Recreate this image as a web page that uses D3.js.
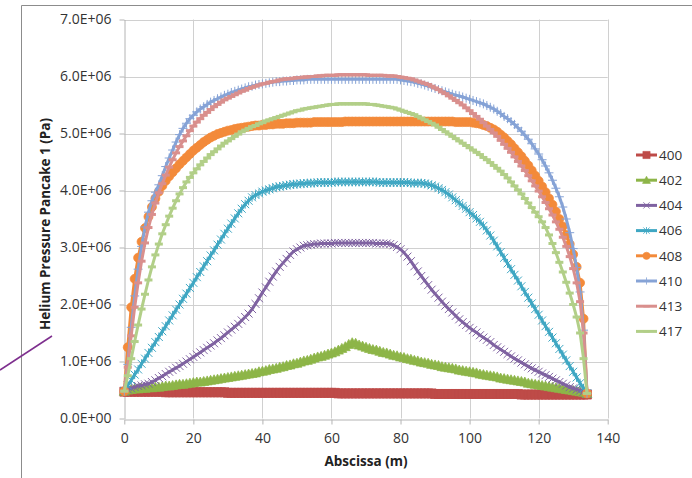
<!DOCTYPE html>
<html>
<head>
<meta charset="utf-8">
<script src="https://d3js.org/d3.v7.min.js"></script>
<style>
  body { margin: 0; background: #fff; }
  svg { display: block; font-family: "Open Sans", "Liberation Sans", sans-serif; }
</style>
</head>
<body>
<svg width="692" height="478"></svg>
<script>
// abscissa sampling (m), one point per metre
const abscissa = d3.range(0, 135);

// pressure values, in units of 1.0E+06 Pa
const p400 = [
  0.47,0.47,0.47,0.47,0.47,0.47,0.47,0.47,0.47,0.47,
  0.47,0.47,0.46,0.46,0.46,0.46,0.46,0.46,0.46,0.46,
  0.46,0.46,0.46,0.46,0.46,0.46,0.46,0.46,0.46,0.46,
  0.45,0.45,0.45,0.45,0.45,0.45,0.45,0.45,0.45,0.45,
  0.45,0.45,0.45,0.45,0.45,0.45,0.45,0.45,0.45,0.45,
  0.45,0.45,0.45,0.45,0.45,0.45,0.45,0.45,0.45,0.45,
  0.45,0.45,0.44,0.44,0.44,0.44,0.44,0.44,0.44,0.44,
  0.44,0.44,0.44,0.44,0.44,0.44,0.44,0.44,0.44,0.44,
  0.44,0.44,0.44,0.44,0.44,0.44,0.44,0.44,0.44,0.44,
  0.43,0.43,0.43,0.43,0.43,0.43,0.43,0.43,0.43,0.43,
  0.43,0.43,0.43,0.43,0.43,0.43,0.43,0.43,0.43,0.43,
  0.43,0.43,0.43,0.43,0.43,0.42,0.42,0.42,0.42,0.42,
  0.42,0.42,0.42,0.42,0.42,0.42,0.42,0.42,0.42,0.42,
  0.42,0.42,0.42,0.42,0.42
];
const p402 = [
  0.48,0.50,0.51,0.52,0.52,0.53,0.53,0.54,0.54,0.55,
  0.55,0.56,0.57,0.57,0.58,0.59,0.60,0.60,0.61,0.62,
  0.63,0.64,0.64,0.65,0.66,0.67,0.68,0.69,0.70,0.71,
  0.72,0.73,0.74,0.75,0.76,0.77,0.78,0.79,0.80,0.82,
  0.83,0.84,0.86,0.87,0.88,0.90,0.91,0.93,0.94,0.96,
  0.97,0.99,1.01,1.02,1.04,1.06,1.08,1.09,1.11,1.13,
  1.15,1.17,1.20,1.23,1.26,1.30,1.33,1.32,1.29,1.27,
  1.25,1.23,1.21,1.20,1.18,1.16,1.15,1.13,1.11,1.10,
  1.08,1.07,1.05,1.04,1.02,1.01,0.99,0.98,0.97,0.95,
  0.94,0.93,0.91,0.90,0.89,0.88,0.87,0.85,0.84,0.83,
  0.82,0.81,0.80,0.78,0.77,0.76,0.75,0.74,0.73,0.71,
  0.70,0.69,0.68,0.67,0.66,0.65,0.64,0.62,0.61,0.60,
  0.59,0.58,0.57,0.56,0.55,0.54,0.53,0.52,0.51,0.50,
  0.49,0.48,0.47,0.46,0.44
];
const p404 = [
  0.48,0.51,0.53,0.55,0.57,0.58,0.60,0.61,0.64,0.67,
  0.71,0.74,0.78,0.82,0.85,0.89,0.92,0.96,1.00,1.04,
  1.08,1.12,1.16,1.20,1.24,1.28,1.32,1.37,1.41,1.46,
  1.51,1.56,1.61,1.66,1.72,1.78,1.84,1.92,2.01,2.11,
  2.21,2.30,2.40,2.49,2.58,2.66,2.73,2.80,2.87,2.93,
  2.97,3.00,3.03,3.04,3.05,3.06,3.06,3.07,3.07,3.07,
  3.07,3.08,3.08,3.08,3.08,3.08,3.08,3.08,3.08,3.08,
  3.08,3.08,3.08,3.07,3.07,3.07,3.07,3.06,3.04,3.01,
  2.97,2.91,2.84,2.76,2.67,2.58,2.50,2.42,2.34,2.26,
  2.19,2.12,2.05,1.98,1.92,1.86,1.80,1.74,1.69,1.64,
  1.59,1.55,1.51,1.46,1.42,1.38,1.34,1.29,1.25,1.21,
  1.17,1.13,1.09,1.05,1.02,0.98,0.95,0.91,0.88,0.85,
  0.82,0.79,0.76,0.73,0.70,0.67,0.64,0.61,0.58,0.55,
  0.53,0.51,0.49,0.47,0.44
];
const p406 = [
  0.48,0.58,0.67,0.77,0.86,0.96,1.05,1.15,1.24,1.34,
  1.43,1.53,1.62,1.72,1.81,1.91,2.00,2.10,2.19,2.29,
  2.38,2.48,2.57,2.67,2.76,2.86,2.95,3.05,3.14,3.24,
  3.33,3.42,3.51,3.60,3.68,3.76,3.82,3.88,3.92,3.95,
  3.98,4.00,4.02,4.04,4.06,4.07,4.08,4.09,4.10,4.11,
  4.11,4.12,4.12,4.13,4.13,4.13,4.14,4.14,4.14,4.14,
  4.14,4.15,4.15,4.15,4.15,4.15,4.15,4.15,4.15,4.15,
  4.15,4.15,4.15,4.15,4.14,4.14,4.14,4.14,4.14,4.14,
  4.14,4.14,4.14,4.13,4.13,4.13,4.13,4.12,4.11,4.09,
  4.07,4.04,4.01,3.97,3.93,3.88,3.83,3.78,3.73,3.68,
  3.62,3.57,3.51,3.45,3.38,3.30,3.21,3.12,3.02,2.92,
  2.82,2.72,2.62,2.52,2.42,2.32,2.22,2.12,2.02,1.92,
  1.82,1.72,1.62,1.52,1.42,1.32,1.22,1.12,1.02,0.92,
  0.82,0.72,0.62,0.53,0.44
];
const p408 = [
  0.48,1.25,1.95,2.45,2.82,3.10,3.34,3.54,3.71,3.86,
  3.98,4.08,4.17,4.25,4.32,4.39,4.46,4.52,4.58,4.64,
  4.70,4.75,4.80,4.85,4.89,4.93,4.96,4.99,5.01,5.03,
  5.05,5.06,5.08,5.09,5.10,5.11,5.12,5.13,5.14,5.14,
  5.15,5.15,5.16,5.16,5.17,5.17,5.17,5.18,5.18,5.18,
  5.19,5.19,5.19,5.19,5.19,5.20,5.20,5.20,5.20,5.20,
  5.20,5.20,5.20,5.20,5.21,5.21,5.21,5.21,5.21,5.21,
  5.21,5.21,5.21,5.21,5.21,5.21,5.21,5.21,5.21,5.21,
  5.21,5.21,5.21,5.21,5.21,5.21,5.21,5.21,5.21,5.21,
  5.21,5.21,5.21,5.21,5.21,5.21,5.20,5.20,5.20,5.20,
  5.20,5.19,5.18,5.17,5.15,5.13,5.10,5.07,5.03,4.98,
  4.93,4.87,4.81,4.74,4.67,4.60,4.52,4.44,4.35,4.26,
  4.17,4.07,3.97,3.86,3.75,3.63,3.50,3.37,3.22,3.06,
  2.88,2.66,2.38,1.75,0.44
];
const p410 = [
  0.48,0.95,1.60,2.15,2.62,3.02,3.36,3.62,3.82,3.97,
  4.10,4.26,4.42,4.57,4.71,4.85,4.98,5.09,5.18,5.26,
  5.32,5.38,5.43,5.47,5.51,5.55,5.58,5.61,5.64,5.67,
  5.69,5.72,5.74,5.76,5.78,5.80,5.82,5.83,5.85,5.86,
  5.87,5.88,5.89,5.90,5.91,5.91,5.92,5.92,5.93,5.93,
  5.94,5.94,5.94,5.95,5.95,5.95,5.95,5.95,5.95,5.95,
  5.95,5.95,5.95,5.95,5.95,5.95,5.95,5.95,5.95,5.95,
  5.95,5.95,5.95,5.95,5.95,5.95,5.95,5.95,5.95,5.95,
  5.94,5.93,5.92,5.91,5.90,5.88,5.87,5.85,5.83,5.81,
  5.79,5.77,5.75,5.73,5.71,5.69,5.67,5.66,5.64,5.62,
  5.60,5.58,5.56,5.54,5.52,5.49,5.46,5.43,5.39,5.35,
  5.30,5.26,5.21,5.16,5.10,5.04,4.97,4.90,4.82,4.73,
  4.64,4.54,4.43,4.31,4.18,4.04,3.89,3.71,3.50,3.26,
  2.98,2.65,2.22,1.55,0.44
];
const p413 = [
  0.48,0.90,1.45,1.95,2.38,2.76,3.08,3.35,3.58,3.78,
  3.96,4.12,4.27,4.41,4.54,4.66,4.77,4.87,4.96,5.05,
  5.13,5.20,5.26,5.32,5.37,5.42,5.47,5.51,5.55,5.59,
  5.62,5.65,5.68,5.71,5.74,5.76,5.79,5.81,5.83,5.85,
  5.87,5.88,5.90,5.91,5.92,5.94,5.95,5.96,5.96,5.97,
  5.98,5.98,5.99,5.99,6.00,6.00,6.01,6.01,6.02,6.02,
  6.02,6.02,6.03,6.03,6.03,6.03,6.03,6.03,6.03,6.03,
  6.03,6.02,6.02,6.02,6.02,6.02,6.01,6.01,6.01,6.00,
  5.99,5.98,5.97,5.96,5.94,5.92,5.90,5.88,5.86,5.83,
  5.80,5.77,5.73,5.70,5.66,5.62,5.58,5.54,5.50,5.45,
  5.40,5.35,5.30,5.25,5.19,5.13,5.07,5.01,4.95,4.88,
  4.81,4.74,4.67,4.59,4.51,4.43,4.35,4.26,4.17,4.08,
  3.99,3.89,3.79,3.68,3.57,3.45,3.32,3.18,3.02,2.84,
  2.63,2.38,2.05,1.50,0.44
];
const p417 = [
  0.48,0.75,1.05,1.35,1.64,1.92,2.18,2.43,2.66,2.87,
  3.06,3.24,3.40,3.55,3.69,3.82,3.94,4.05,4.15,4.23,
  4.31,4.38,4.45,4.51,4.57,4.63,4.68,4.73,4.78,4.83,
  4.87,4.91,4.95,4.99,5.03,5.06,5.09,5.12,5.14,5.17,
  5.19,5.22,5.24,5.26,5.28,5.30,5.32,5.34,5.36,5.38,
  5.40,5.41,5.43,5.44,5.45,5.46,5.47,5.48,5.49,5.50,
  5.51,5.51,5.52,5.52,5.52,5.52,5.52,5.52,5.52,5.52,
  5.52,5.51,5.51,5.50,5.49,5.48,5.47,5.46,5.45,5.43,
  5.41,5.39,5.37,5.35,5.33,5.30,5.27,5.24,5.21,5.18,
  5.15,5.11,5.07,5.03,4.99,4.95,4.91,4.87,4.83,4.79,
  4.75,4.71,4.67,4.63,4.58,4.54,4.49,4.44,4.39,4.34,
  4.28,4.22,4.15,4.08,4.01,3.94,3.86,3.78,3.70,3.62,
  3.54,3.45,3.35,3.22,3.07,2.91,2.74,2.57,2.39,2.20,
  2.00,1.78,1.50,1.05,0.44
];

const seriesNames = ["400", "402", "404", "406", "408", "410", "413", "417"];
const seriesValues = [p400, p402, p404, p406, p408, p410, p413, p417];
const seriesColors = ["#BE4B48", "#8DB548", "#7F62A1", "#3FA7C3", "#F38A3A", "#86A3D6", "#D98F8D", "#B2CF88"];
const seriesMarkers = ["square", "triangle", "x", "star", "circle", "plus", "dash", "dash"];

const xTicks = [0, 20, 40, 60, 80, 100, 120, 140];
const yTicks = [0, 1e6, 2e6, 3e6, 4e6, 5e6, 6e6, 7e6];

const svg = d3.select("svg");
const plot = {left: 124.3, right: 607.7, top: 19.5, bottom: 418.5};

const x = d3.scaleLinear().domain([0, 140]).range([plot.left, plot.right]);
const y = d3.scaleLinear().domain([0, 7e6]).range([plot.bottom, plot.top]);

// chart frame (only the top and left edges are inside the picture)
svg.append("path")
   .attr("d", "M21.5,478 V5.5 H692")
   .attr("fill", "none")
   .attr("stroke", "#8c8c8c");

// gridlines
svg.append("g").selectAll("line").data(yTicks.slice(1)).join("line")
   .attr("x1", plot.left).attr("x2", plot.right)
   .attr("y1", d => Math.round(y(d)) + 0.5).attr("y2", d => Math.round(y(d)) + 0.5)
   .attr("stroke", "#d0d0d0");
svg.append("g").selectAll("line").data(xTicks.slice(1)).join("line")
   .attr("x1", d => Math.round(x(d)) + 0.5).attr("x2", d => Math.round(x(d)) + 0.5)
   .attr("y1", plot.top).attr("y2", plot.bottom)
   .attr("stroke", "#d0d0d0");

function sciFormat(v) {
    const e = v === 0 ? 0 : Math.floor(Math.log10(v));
    const m = (v / Math.pow(10, e)).toFixed(1);
    return m + "E+" + String(e).padStart(2, "0");
}

const yAxis = svg.append("g")
   .attr("transform", "translate(" + (Math.round(plot.left) + 0.5) + ",0)")
   .call(d3.axisLeft(y).tickValues(yTicks).tickFormat(sciFormat).tickSize(5).tickSizeOuter(0).tickPadding(8));
const xAxis = svg.append("g")
   .attr("transform", "translate(0," + (Math.round(plot.bottom) + 0.5) + ")")
   .call(d3.axisBottom(x).tickValues(xTicks).tickSize(5).tickSizeOuter(0).tickPadding(9));

[xAxis, yAxis].forEach(a => {
    a.select(".domain").attr("stroke", "#b4b4b4");
    a.selectAll(".tick line").attr("stroke", "#b4b4b4");
    a.selectAll(".tick text")
     .attr("fill", "#333")
     .style("font-size", "14px")
     .style("font-family", "'Open Sans', sans-serif");
});

// axis titles
svg.append("text")
   .attr("x", (plot.left + plot.right) / 2)
   .attr("y", 466)
   .attr("text-anchor", "middle")
   .style("font-size", "13.5px")
   .style("font-weight", "bold")
   .attr("fill", "#222")
   .text("Abscissa (m)");

svg.append("text")
   .attr("transform", "translate(50,224) rotate(-90)")
   .attr("text-anchor", "middle")
   .style("font-size", "13.5px")
   .style("font-weight", "bold")
   .attr("fill", "#222")
   .text("Helium Pressure Pancake 1 (Pa)");

// marker shapes, centred on 0,0
const markerPath = {
    square: "M-4.5,-4.5H4.5V4.5H-4.5Z",
    triangle: "M0,-5L5,4H-5Z",
    x: "M-4,-4L4,4M-4,4L4,-4",
    star: "M-4,-4L4,4M-4,4L4,-4M0,-4.5V4.5",
    circle: "M4.5,0A4.5,4.5 0 1 1 -4.5,0A4.5,4.5 0 1 1 4.5,0Z",
    plus: "M-4.5,0H4.5M0,-4.5V4.5",
    dash: "M-4,0H4"
};
const filledMarker = {square: true, triangle: true, circle: true};

function styleMarker(sel, type, color) {
    sel.attr("d", markerPath[type])
       .attr("fill", filledMarker[type] ? color : "none")
       .attr("stroke", color)
       .attr("stroke-width", type === "dash" ? 3 : (filledMarker[type] ? 0.75 : 1));
}

const line = d3.line()
    .x(d => x(d[0]))
    .y(d => y(d[1] * 1e6));

const series = seriesNames.map((name, i) => ({
    name: name,
    color: seriesColors[i],
    marker: seriesMarkers[i],
    points: abscissa.map((a, j) => [a, seriesValues[i][j]])
}));

const seriesG = svg.append("g");
series.forEach(s => {
    const g = seriesG.append("g");
    g.append("path")
     .attr("d", line(s.points))
     .attr("fill", "none")
     .attr("stroke", s.color)
     .attr("stroke-width", 3)
     .attr("stroke-linejoin", "round");
    g.selectAll("path.mk").data(s.points).join("path")
     .attr("class", "mk")
     .attr("transform", d => "translate(" + x(d[0]) + "," + y(d[1] * 1e6) + ")")
     .call(styleMarker, s.marker, s.color);
});

// legend
const legend = svg.append("g").attr("transform", "translate(636,155)");
const entries = legend.selectAll("g").data(series).join("g")
    .attr("transform", (d, i) => "translate(0," + (i * 25.2) + ")");
entries.append("line")
    .attr("x1", 0).attr("x2", 21)
    .attr("stroke", d => d.color)
    .attr("stroke-width", 3);
entries.append("path")
    .attr("transform", "translate(10.5,0) scale(0.8)")
    .each(function(d) { d3.select(this).call(styleMarker, d.marker, d.color); });
entries.append("text")
    .attr("x", 23)
    .attr("dy", "0.35em")
    .attr("fill", "#333")
    .style("font-size", "13.5px")
    .text(d => d.name);

// stray annotation stroke at the left edge
svg.append("line")
   .attr("x1", 0).attr("y1", 370)
   .attr("x2", 52).attr("y2", 336)
   .attr("stroke", "#7e2f8e")
   .attr("stroke-width", 1.5);
</script>
</body>
</html>
